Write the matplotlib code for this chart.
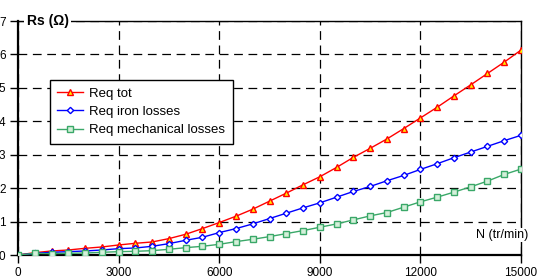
import matplotlib.pyplot as plt

plt.rcParams['font.family'] = ['Liberation Sans', 'DejaVu Sans']

# speed (tr/min)
speed = list(range(0, 15001, 500))

req_tot = [0.00, 0.07, 0.12, 0.15, 0.20, 0.24, 0.30, 0.35, 0.39, 0.49, 0.62,
           0.79, 0.97, 1.16, 1.37, 1.61, 1.85, 2.10, 2.34, 2.62, 2.92,
           3.19, 3.47, 3.78, 4.10, 4.42, 4.76, 5.09, 5.43, 5.77, 6.13]
req_iron = [0.00, 0.05, 0.08, 0.10, 0.12, 0.15, 0.19, 0.21, 0.26, 0.34, 0.44,
            0.53, 0.67, 0.79, 0.93, 1.09, 1.25, 1.41, 1.56, 1.73, 1.90,
            2.05, 2.22, 2.38, 2.56, 2.73, 2.91, 3.08, 3.25, 3.42, 3.58]
req_mech = [0.00, 0.05, 0.04, 0.05, 0.06, 0.08, 0.10, 0.11, 0.13, 0.17, 0.22,
            0.26, 0.32, 0.40, 0.47, 0.55, 0.64, 0.73, 0.83, 0.93, 1.05,
            1.17, 1.27, 1.43, 1.59, 1.73, 1.88, 2.04, 2.21, 2.41, 2.57]

xticks = [0, 3000, 6000, 9000, 12000, 15000]
yticks = [0, 1, 2, 3, 4, 5, 6, 7]

fig = plt.figure(figsize=(5.44, 2.80), dpi=100)
ax = fig.add_axes([18 / 544, 25 / 280, 503 / 544, 234 / 280])

ax.plot(speed, req_tot, color='#ff0000', lw=1.0, marker='^', ms=4.5,
        mfc='#ffee00', mec='#ff0000', mew=1.0, label='Req tot', zorder=4)
ax.plot(speed, req_iron, color='#0000ff', lw=1.0, marker='D', ms=3.2,
        mfc='white', mec='#0000ff', mew=1.0, label='Req iron losses', zorder=4)
ax.plot(speed, req_mech, color='#3aa868', lw=1.0, marker='s', ms=4.0,
        mfc='#d4f0da', mec='#3aa868', mew=1.0, label='Req mechanical losses', zorder=4)

ax.set_xlim(0, 15000)
ax.set_ylim(0, 7)
ax.set_xticks(xticks)
ax.set_yticks(yticks)
ax.tick_params(axis='both', direction='out', length=6, width=1.0, labelsize=8.5,
               pad=3, color='black')

ax.grid(True, color='black', lw=0.9, linestyle=(0, (7, 4.5)))
ax.set_axisbelow(True)

for s in ['left', 'bottom']:
    ax.spines[s].set_linewidth(1.6)
for s in ['top', 'right']:
    ax.spines[s].set_linewidth(1.0)

ax.text(0.017, 1.0, 'Rs (\u03a9)', transform=ax.transAxes, fontsize=10,
        fontweight='bold', va='center', ha='left',
        bbox=dict(facecolor='white', edgecolor='none', pad=1.5), zorder=6)
ax.text(1.015, 0.085, 'N (tr/min)', transform=ax.transAxes, fontsize=9,
        va='center', ha='right',
        bbox=dict(facecolor='white', edgecolor='none', pad=1.0), zorder=6)

leg = ax.legend(loc='upper left', bbox_to_anchor=(0.063, 0.746), fontsize=9.5,
                frameon=True, fancybox=False, framealpha=1, edgecolor='black',
                handlelength=2.0, borderpad=0.55, labelspacing=0.45,
                handletextpad=0.45, borderaxespad=0)
leg.get_frame().set_linewidth(1.0)
leg.set_zorder(7)

fig.savefig('out.png', dpi=100)
